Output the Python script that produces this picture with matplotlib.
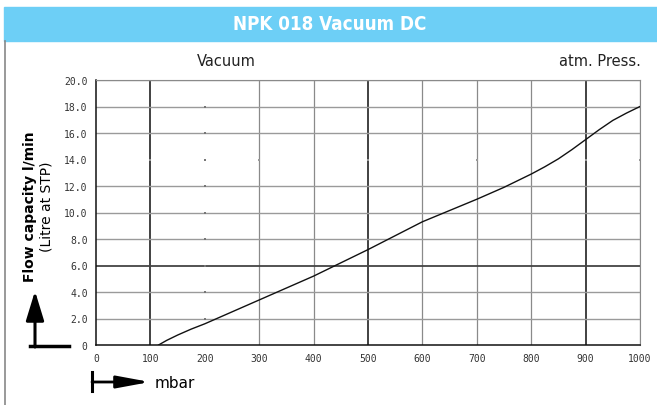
import matplotlib.pyplot as plt
import matplotlib.patches as patches

# curve
pressure = [115, 130, 150, 175, 200, 250, 300, 350, 400, 450, 500, 550, 600, 650, 700, 750, 800, 825, 850, 875, 900, 925, 950, 975, 1000]
flow = [0.0, 0.35, 0.75, 1.2, 1.6, 2.5, 3.4, 4.3, 5.2, 6.2, 7.2, 8.25, 9.3, 10.15, 11.0, 11.9, 12.9, 13.45, 14.05, 14.75, 15.5, 16.25, 16.95, 17.5, 18.0]

x_ticks = [0, 100, 200, 300, 400, 500, 600, 700, 800, 900, 1000]
y_ticks = [0, 2, 4, 6, 8, 10, 12, 14, 16, 18, 20]
y_labels = ["0", "2.0", "4.0", "6.0", "8.0", "10.0", "12.0", "14.0", "16.0", "18.0", "20.0"]

fig = plt.figure(figsize=(6.57, 4.06), dpi=100)
W, H = 657, 406

def fx(px):
    return px / W

def fy(py):
    return 1 - py / H

# header bar
fig.patches.append(patches.Rectangle((fx(4), fy(42)), 1 - fx(4), fy(8) - fy(42),
                                     transform=fig.transFigure, color="#6dcff6", zorder=0))
fig.text(fx(330), fy(25), "NPK 018 Vacuum DC", color="white", fontsize=13.5, fontweight="bold",
         fontstretch="condensed", ha="center", va="center", family="DejaVu Sans")
fig.add_artist(plt.Line2D([fx(5), fx(5)], [0, fy(42)], color="#888888", lw=1.2, transform=fig.transFigure))

fig.text(fx(226), fy(61), "Vacuum", fontsize=10.5, ha="center", va="center", color="#222222")
fig.text(fx(600), fy(61), "atm. Press.", fontsize=10.5, ha="center", va="center", color="#222222")

ax = fig.add_axes([fx(96), fy(346), fx(640) - fx(96), fy(81) - fy(346)])
ax.set_xlim(0, 1000)
ax.set_ylim(0, 20)

for xv in x_ticks[1:]:
    if xv == 200:
        continue
    dark = xv in (100, 500, 900)
    ax.axvline(xv, color="#333333" if dark else "#8a8a8a", lw=1.3 if dark else 0.9, zorder=1)
for yv in y_ticks[1:]:
    if yv == 14:
        continue
    dark = yv == 6
    ax.axhline(yv, color="#444444" if dark else "#9a9a9a", lw=1.3 if dark else 1.0, zorder=1)

# little marks where grid lines are missing
ax.scatter([200] * 9, [2, 4, 6, 8, 10, 12, 14, 16, 18], s=0.8, marker="s", color="#777777", zorder=2, linewidths=0)
ax.scatter([100, 300, 500, 700, 900, 1000], [14] * 6, s=0.8, marker="s", color="#999999", zorder=2, linewidths=0)

ax.plot(pressure, flow, color="#111111", lw=1.0, zorder=3)

for side in ("top", "right"):
    ax.spines[side].set_color("#8a8a8a")
for side in ("left", "bottom"):
    ax.spines[side].set_color("#111111")
    ax.spines[side].set_linewidth(1.1)

ax.set_xticks(x_ticks)
ax.set_xticklabels([str(v) for v in x_ticks])
ax.set_yticks(y_ticks)
ax.set_yticklabels(y_labels)
ax.tick_params(length=0, labelsize=7, colors="#333333", pad=6)
for lab in ax.get_xticklabels() + ax.get_yticklabels():
    lab.set_family("DejaVu Sans Mono")

# y axis label and arrow
fig.text(fx(30), fy(207), "Flow capacity l/min", rotation=90, fontsize=10, fontweight="bold",
         ha="center", va="center")
fig.text(fx(46), fy(207), "(Litre at STP)", rotation=90, fontsize=10, ha="center", va="center")
fig.add_artist(plt.Line2D([fx(30), fx(69)], [fy(347), fy(347)], color="black", lw=2.5, transform=fig.transFigure))
fig.add_artist(patches.FancyArrowPatch((fx(35), fy(348)), (fx(35), fy(292)), transform=fig.transFigure,
                                       arrowstyle="-|>,head_length=18,head_width=5.5", color="black", lw=2.2,
                                       shrinkA=0, shrinkB=0))

# x axis arrow and label
fig.add_artist(plt.Line2D([fx(92), fx(92)], [fy(373), fy(392)], color="black", lw=2.2, transform=fig.transFigure))
fig.add_artist(patches.FancyArrowPatch((fx(92), fy(383)), (fx(150), fy(383)), transform=fig.transFigure,
                                       arrowstyle="-|>,head_length=20,head_width=3.7", color="black", lw=2.0,
                                       shrinkA=0, shrinkB=0))
fig.text(fx(155), fy(384), "mbar", fontsize=11, ha="left", va="center")

fig.savefig("out.png", dpi=100)
